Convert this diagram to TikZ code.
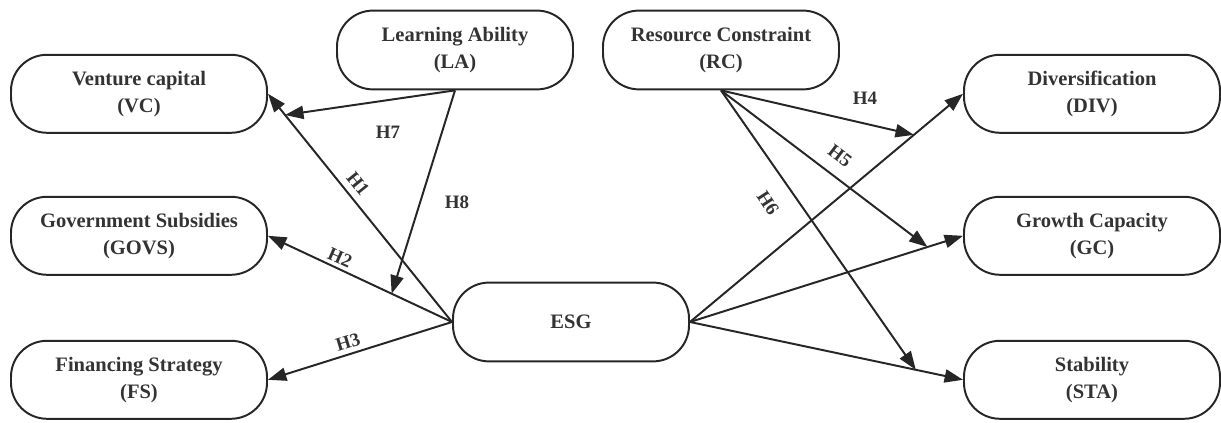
\documentclass[tikz,border=0pt]{standalone}
\usepackage{fontspec}
\setmainfont{Liberation Serif}
\usepackage{tikz}
\usetikzlibrary{arrows.meta,calc}

\begin{document}
\begin{tikzpicture}[every node/.style={rectangle, rounded corners=0.9cm, draw=black!85, line width=1.4pt, align=center, inner sep=0pt, font=\fontsize{14.6}{19.5}\selectfont\bfseries, text=black!80},
	side/.style={minimum width=6.4cm, minimum height=1.95cm},
	mid/.style={minimum width=5.9cm, minimum height=1.97cm},
	hyp/.style={draw=none, rounded corners=0pt, font=\fontsize{13.5}{15}\selectfont\bfseries},
	arr/.style={draw=black!85, line width=1.4pt, -{Triangle[length=0.46cm, width=0.33cm]}}]
			\useasboundingbox (0,0) rectangle (30.525,10.575);
			
			\node[side] (vc) at (3.475,8.23){Venture capital\\(VC)};
			\node[side] (govs) at (3.475,4.68){Government Subsidies\\(GOVS)};
			\node[side] (fs) at (3.475,1.08){Financing Strategy\\(FS)};
			\node[side] (div) at (27.3,8.23){Diversification\\(DIV)};
			\node[side] (gc) at (27.3,4.68){Growth Capacity\\(GC)};
			\node[side] (sta) at (27.3,1.08){Stability\\(STA)};
			\node[mid] (la) at (11.375,9.325){Learning Ability\\(LA)};
			\node[mid] (rc) at (18.025,9.325){Resource Constraint\\(RC)};
			\node[mid] (esg) at (14.275,2.525){ESG};
			
			\node[hyp, rotate=-51] (h1) at (8.95,5.98){H1};
			\node[hyp, rotate=-24] (h2) at (8.5,4.14){H2};
			\node[hyp, rotate=17] (h3) at (8.7,2.02){H3};
			\node[hyp] (h4) at (21.625,8.125){H4};
			\node[hyp, rotate=-37] (h5) at (21.0,6.68){H5};
			\node[hyp, rotate=-57] (h6) at (19.2,5.5){H6};
			\node[hyp] (h7) at (9.7,7.275){H7};
			\node[hyp] (h8) at (11.425,5.525){H8};
			
			\coordinate (m7) at ($(esg.west)!0.907!(vc.east)$);
			\coordinate (m8) at ($(esg.west)!0.328!(govs.east)$);
			\coordinate (m4) at ($(esg.east)!0.82!(div.west)$);
			\coordinate (m5) at ($(esg.east)!0.87!(gc.west)$);
			\coordinate (m6) at ($(esg.east)!0.827!(sta.west)$);
			
			\path (esg.west) edge[arr] (vc.east);
			\path (esg.west) edge[arr] (govs.east);
			\path (esg.west) edge[arr] (fs.east);
			\path (esg.east) edge[arr] (div.west);
			\path (esg.east) edge[arr] (gc.west);
			\path (esg.east) edge[arr] (sta.west);
			\path (la.south) edge[arr] (m7);
			\path (la.south) edge[arr] (m8);
			\path (rc.south) edge[arr] (m4);
			\path (rc.south) edge[arr] (m5);
			\path (rc.south) edge[arr] (m6);
			\end{tikzpicture}
\end{document}
